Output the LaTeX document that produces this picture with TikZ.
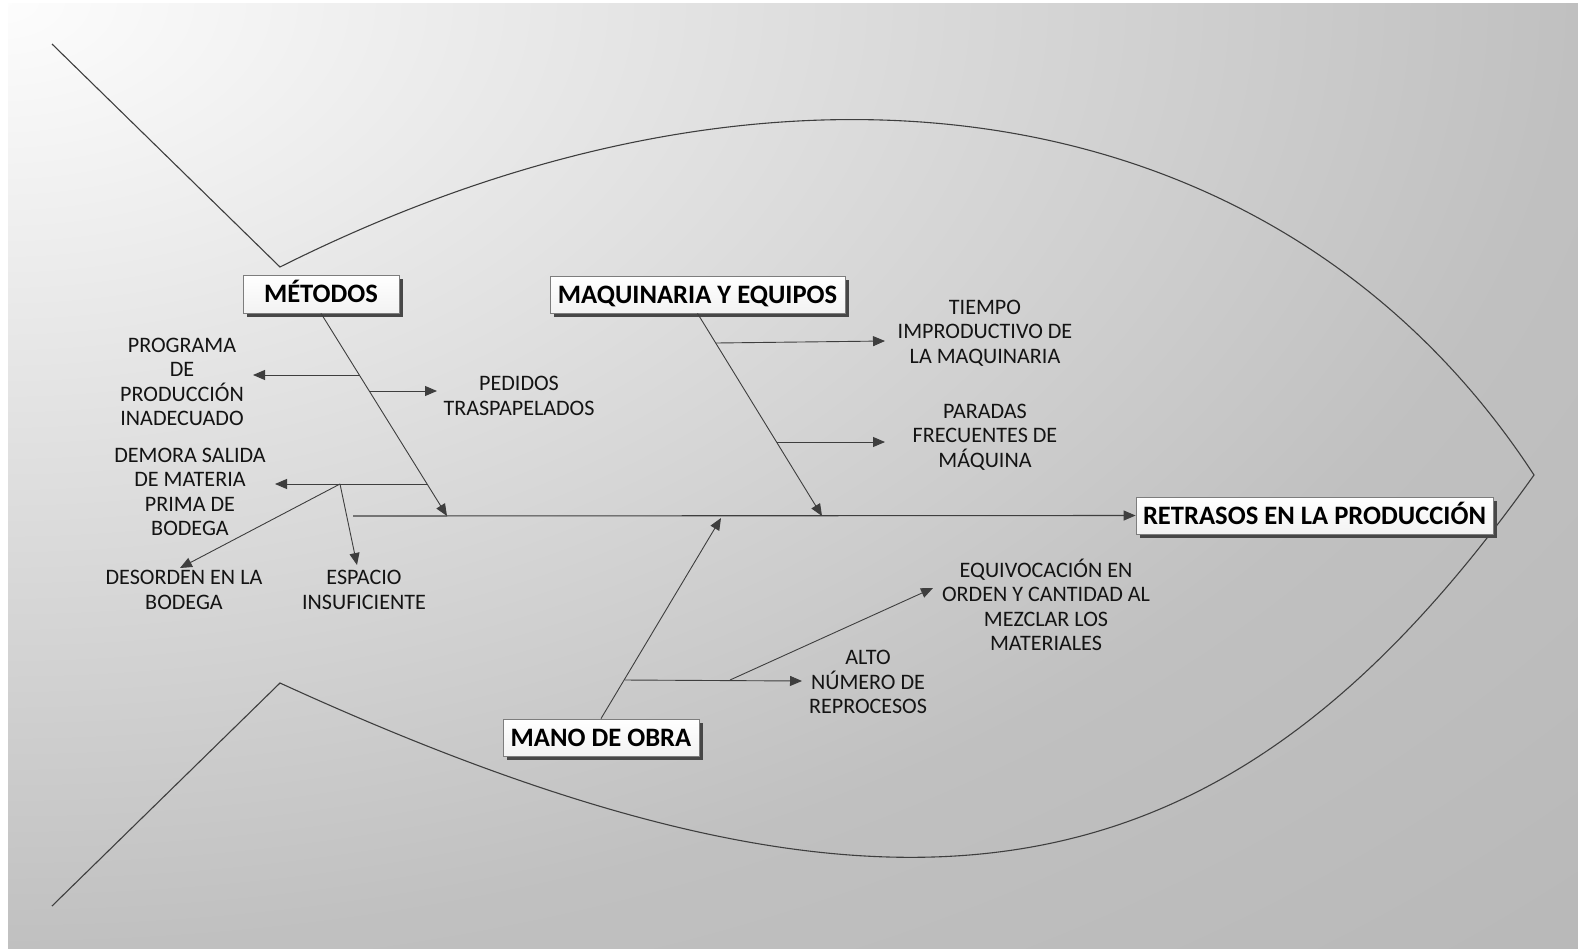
\documentclass[tikz,border=0pt]{standalone}
\usepackage{fontspec}
\setmainfont{Carlito}
\usetikzlibrary{arrows.meta,shadows}
\definecolor{bglight}{RGB}{253,253,253}
\definecolor{bgmid}{RGB}{192,192,192}
\definecolor{bgdark}{RGB}{184,184,184}
\definecolor{linegray}{RGB}{62,62,62}
\definecolor{boxedge}{RGB}{125,125,125}
% soft backdrop: light in the upper left corner, darker towards the lower right
\pgfdeclareradialshading{fishbg}{\pgfpoint{0bp}{0bp}}{color(0bp)=(bglight); color(25bp)=(bgmid); color(36bp)=(bgdark); color(50bp)=(bgdark)}

\begin{document}
\begin{tikzpicture}[x=1pt,y=-1pt,
  causebox/.style={draw=boxedge, line width=0.8pt, top color=white, bottom color=black!5,
    font=\fontsize{26.6}{29}\selectfont\bfseries, inner sep=0pt,
    text height=17.1pt, text depth=0pt,
    drop shadow={shadow xshift=4pt, shadow yshift=-4pt, fill=black!72, opacity=1}},
  cause/.style={align=center, font=\fontsize{22.1}{24.4}\selectfont, text=black!92, inner sep=0pt},
  bone/.style={draw=linegray, line width=0.9pt},
  arr/.style={bone, -{Triangle[length=12pt,width=10pt]}},
  fishline/.style={draw=linegray, line width=1.1pt, line join=miter}
]
\useasboundingbox (0,0) rectangle (1578,948);

% backdrop
\begin{scope}
  \clip (8,3) rectangle (1578,948);
  \shade[shading=fishbg] (-1578,-948) rectangle (1578,948);
\end{scope}

% fish outline
\coordinate (tailTop) at (52,44);
\coordinate (tailBot) at (52,906);
\coordinate (finTop) at (280,267);
\coordinate (finBot) at (280,683);
\coordinate (nose) at (1534,475);
\draw[fishline] (tailTop) -- (finTop) .. controls (793,10) and (1286,95) .. (nose)
  .. controls (1235,895) and (920,976) .. (finBot) -- (tailBot);

% category boxes and effect
\node[causebox, minimum width=156, minimum height=38] (metodos) at (321,294) {MÉTODOS};
\node[causebox, minimum width=295, minimum height=37] (maquinaria) at (697.5,294.5) {MAQUINARIA Y EQUIPOS};
\node[causebox, minimum width=196, minimum height=37] (mano) at (601,737.5) {MANO DE OBRA};
\node[causebox, minimum width=357, minimum height=37] (effect) at (1314.5,515.5) {RETRASOS EN LA PRODUCCIÓN};

% causes
\node[cause] (progLbl) at (182,382) {PROGRAMA\\DE\\PRODUCCIÓN\\INADECUADO};
\node[cause] (pedLbl) at (519,396) {PEDIDOS\\TRASPAPELADOS};
\node[cause] (demLbl) at (190,492) {DEMORA SALIDA\\DE MATERIA\\PRIMA DE\\BODEGA};
\node[cause] (desLbl) at (184,590) {DESORDEN EN LA\\BODEGA};
\node[cause] (espLbl) at (364,590) {ESPACIO\\INSUFICIENTE};
\node[cause] (tieLbl) at (985,333) {TIEMPO\\IMPRODUCTIVO DE\\LA MAQUINARIA};
\node[cause] (parLbl) at (985,437) {PARADAS\\FRECUENTES DE\\MÁQUINA};
\node[cause] (altoLbl) at (868,682) {ALTO\\NÚMERO DE\\REPROCESOS};
\node[cause] (eqLbl) at (1046,605) {EQUIVOCACIÓN EN\\ORDEN Y CANTIDAD AL\\MEZCLAR LOS\\MATERIALES};

% spine
\coordinate (spineL) at (353,516);
\draw[arr, line width=1.1pt] (spineL) -- (effect.west);

% MÉTODOS bone and its branches
\coordinate (mTip) at (447,516);
\coordinate (mA) at (359.7,375);
\coordinate (mB) at (369.7,391);
\coordinate (mC) at (427.7,484);
\coordinate (progTip) at (253,375);
\coordinate (pedTip) at (437,391);
\coordinate (demTip) at (275,484);
\coordinate (dSplit) at (340,484);
\coordinate (desTip) at (180,568);
\coordinate (espTip) at (357,565);
\draw[arr] (metodos.south) -- (mTip);
\draw[arr] (mA) -- (progTip);
\draw[arr] (mB) -- (pedTip);
\draw[arr] (mC) -- (demTip);
\draw[arr] (dSplit) -- (desTip);
\draw[arr] (dSplit) -- (espTip);

% MAQUINARIA bone and its branches
\coordinate (qTip) at (822,516);
\coordinate (qA) at (716,343);
\coordinate (qB) at (777,442);
\coordinate (tieTip) at (885,341);
\coordinate (parTip) at (885,442);
\draw[arr] (maquinaria.south) -- (qTip);
\draw[arr] (qA) -- (tieTip);
\draw[arr] (qB) -- (parTip);

% MANO DE OBRA bone and its branches
\coordinate (oTip) at (721,518);
\coordinate (oA) at (624.5,680);
\coordinate (oSplit) at (730,680);
\coordinate (altoTip) at (802,681);
\coordinate (eqTip) at (933,588);
\draw[arr] (mano.north) -- (oTip);
\draw[arr] (oA) -- (altoTip);
\draw[arr] (oSplit) -- (eqTip);
\end{tikzpicture}
\end{document}
